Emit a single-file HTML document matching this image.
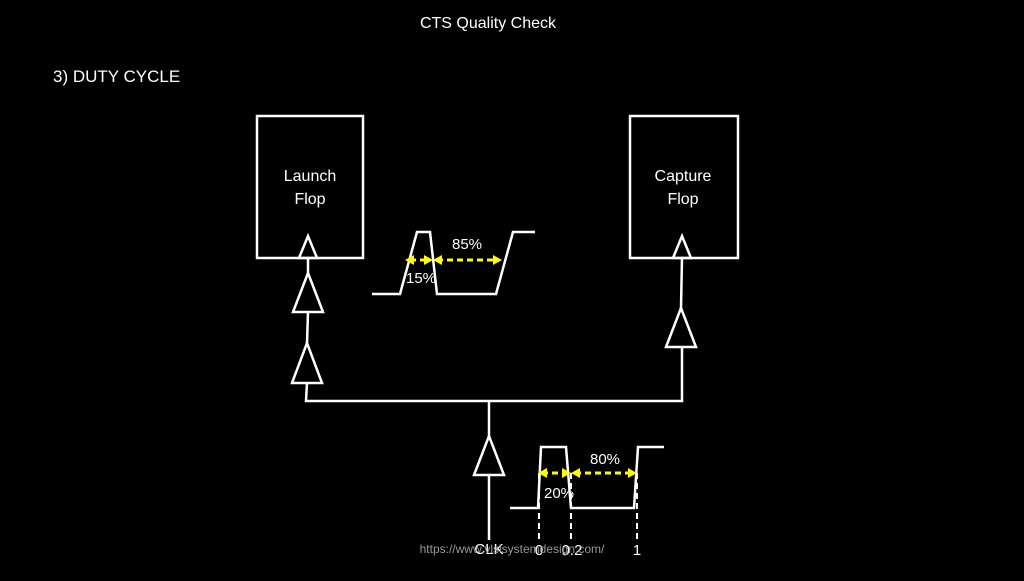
<!DOCTYPE html>
<html><head><style>
body{margin:0;background:#000;width:1024px;height:576px;overflow:hidden}
svg text{font-family:"Liberation Sans",sans-serif;fill:#fff}
</style></head><body>
<svg width="1024" height="576" viewBox="0 0 1024 576" xmlns="http://www.w3.org/2000/svg">
<text x="488" y="28" font-size="16" text-anchor="middle">CTS Quality Check</text>
<text x="53" y="82" font-size="17">3) DUTY CYCLE</text>
<g fill="none" stroke="#fff" stroke-width="2.5">
<rect x="257" y="116" width="106" height="142"/>
<rect x="630" y="116" width="108" height="142"/>
<polygon points="299,258 317,258 308,236"/>
<polygon points="673,258 691,258 682,236"/>
<line x1="308" y1="258" x2="308" y2="273"/>
<polygon points="293,312 323,312 308,273"/>
<line x1="308" y1="312" x2="307" y2="343"/>
<polygon points="292,383 322,383 307,343"/>
<polyline points="307,383 306,401 682,401 682,347"/>
<polygon points="666,347 696,347 681,308"/>
<line x1="681" y1="308" x2="682" y2="258"/>
<line x1="489" y1="401" x2="489" y2="436"/>
<polygon points="474,475 504,475 489,436"/>
<line x1="489" y1="475" x2="489" y2="540"/>
<polyline points="372,294 400,294 417,232 430,232 437,294 496,294 513,232 535,232"/>
<polyline points="510,508 538,508 541,447 566,447 571,508 634,508 638,447 664,447"/>
</g>
<g stroke="#fff" stroke-width="2" stroke-dasharray="6,4">
<line x1="539" y1="473" x2="539" y2="542"/>
<line x1="571" y1="473" x2="571" y2="542"/>
<line x1="637" y1="473" x2="637" y2="542"/>
</g>
<g stroke="#ff0" stroke-width="3" stroke-dasharray="6,4">
<line x1="410" y1="260" x2="429" y2="260"/>
<line x1="437" y1="260" x2="498" y2="260"/>
<line x1="542" y1="473" x2="568" y2="473"/>
<line x1="575" y1="473" x2="633" y2="473"/>
</g>
<g fill="#ff0">
<polygon points="405,260 414,255 414,265"/><polygon points="433,260 424,255 424,265"/>
<polygon points="433,260 442,255 442,265"/><polygon points="502,260 493,255 493,265"/>
<polygon points="538,473 547,468 547,478"/><polygon points="571,473 562,468 562,478"/>
<polygon points="571,473 580,468 580,478"/><polygon points="637,473 628,468 628,478"/>
</g>
<text x="310" y="181" font-size="16" text-anchor="middle">Launch</text>
<text x="310" y="204" font-size="16" text-anchor="middle">Flop</text>
<text x="683" y="181" font-size="16" text-anchor="middle">Capture</text>
<text x="683" y="204" font-size="16" text-anchor="middle">Flop</text>
<text x="467" y="249" font-size="15" text-anchor="middle">85%</text>
<text x="421" y="283" font-size="15" text-anchor="middle">15%</text>
<text x="605" y="464" font-size="15" text-anchor="middle">80%</text>
<text x="559" y="498" font-size="15" text-anchor="middle">20%</text>
<text x="489" y="554" font-size="15" text-anchor="middle">CLK</text>
<text x="539" y="555" font-size="15" text-anchor="middle">0</text>
<text x="572" y="555" font-size="15" text-anchor="middle">0.2</text>
<text x="637" y="555" font-size="15" text-anchor="middle">1</text>
<text x="512" y="553" font-size="12" text-anchor="middle" style="fill:#999">https://www.vlsisystemdesign.com/</text>
</svg>
</body></html>
